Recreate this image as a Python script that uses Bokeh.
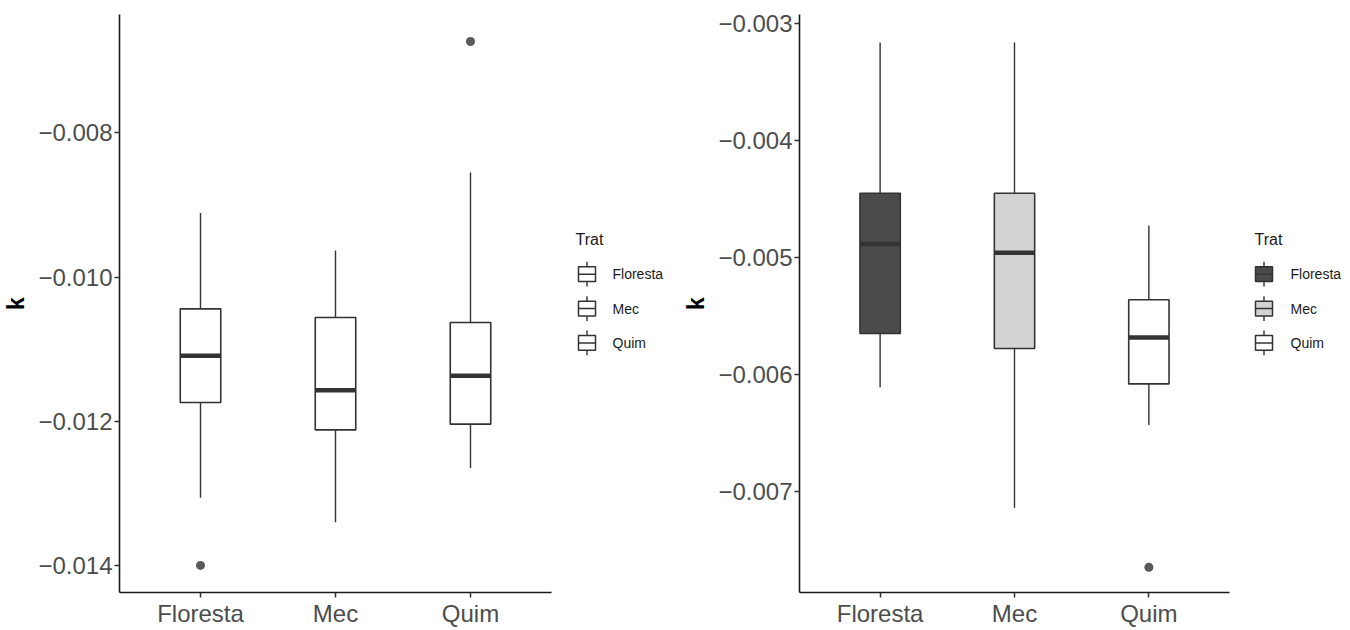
from bokeh.plotting import figure
from bokeh.layouts import row
from bokeh.models import Range1d, FactorRange, FixedTicker, CustomJSTickFormatter
from bokeh.embed import file_html
from bokeh.resources import INLINE
from bokeh.core.properties import value

# ---------------- data ----------------
cats = ["Floresta", "Mec", "Quim"]

# left panel
l_lower = [-0.01306, -0.01340, -0.01265]
l_q1 = [-0.01174, -0.01212, -0.01204]
l_median = [-0.01109, -0.01157, -0.01137]
l_q3 = [-0.01044, -0.01056, -0.01063]
l_upper = [-0.00911, -0.00963, -0.00855]
l_out_cat = ["Floresta", "Quim"]
l_out_val = [-0.01400, -0.00673]
l_fill = ["#ffffff", "#ffffff", "#ffffff"]
l_ticks = [-0.014, -0.012, -0.010, -0.008]

# right panel
r_lower = [-0.006106, -0.007134, -0.006429]
r_q1 = [-0.005648, -0.005776, -0.006078]
r_median = [-0.004885, -0.004960, -0.005683]
r_q3 = [-0.004451, -0.004451, -0.005360]
r_upper = [-0.003165, -0.003165, -0.004727]
r_out_cat = ["Quim"]
r_out_val = [-0.007643]
r_fill = ["#4b4b4b", "#d3d3d3", "#ffffff"]
r_ticks = [-0.007, -0.006, -0.005, -0.004, -0.003]

legend_title = "Trat"
y_label = "k"

FONT = "Liberation Sans"
LINE = "#333333"


def panel(width, bl, br, yr, ticks, lower, q1, med, q3, upper, fills, out_cat, out_val):
    p = figure(width=width, height=630, output_backend="svg", toolbar_location=None,
               x_range=FactorRange(factors=cats, range_padding=0.2 / 3, range_padding_units="percent"),
               y_range=Range1d(*yr),
               min_border_left=bl, min_border_right=br, min_border_top=14, min_border_bottom=38)
    p.outline_line_color = None
    p.grid.visible = False
    p.background_fill_color = "white"
    p.border_fill_color = "white"

    p.segment(x0=cats, y0=q3, x1=cats, y1=upper, line_color=LINE, line_width=1.4)
    p.segment(x0=cats, y0=q1, x1=cats, y1=lower, line_color=LINE, line_width=1.4)
    p.vbar(x=cats, width=0.3, bottom=q1, top=q3, fill_color=fills, line_color=LINE, line_width=1.6)
    p.rect(x=cats, y=med, width=0.3, height=4.5, height_units="screen",
           fill_color=LINE, line_color=None)
    p.scatter(x=out_cat, y=out_val, size=9, fill_color="#595959", line_color=None)

    for ax in (p.xaxis[0], p.yaxis[0]):
        ax.axis_line_color = "#1a1a1a"
        ax.axis_line_width = 1.6
        ax.major_tick_line_color = LINE
        ax.major_tick_line_width = 1.5
        ax.major_tick_out = 5
        ax.major_tick_in = 0
        ax.minor_tick_line_color = None
        ax.major_label_text_font = FONT
        ax.major_label_text_font_size = "24px"
        ax.major_label_text_color = "#4d4d4d"
    p.xaxis.major_label_standoff = 2
    p.yaxis.major_label_standoff = 2
    p.yaxis.ticker = FixedTicker(ticks=ticks)
    p.yaxis.formatter = CustomJSTickFormatter(code="return '\u2212' + Math.abs(tick).toFixed(3);")
    p.yaxis.axis_label = y_label
    p.yaxis.axis_label_text_font = FONT
    p.yaxis.axis_label_text_font_style = "bold"
    p.yaxis.axis_label_text_font_size = "23px"
    p.yaxis.axis_label_text_color = "black"
    p.yaxis.axis_label_standoff = 6
    return p


def legend_fig(width, key_x, label_x, title_x, fills):
    lg = figure(width=width, height=630, output_backend="svg", toolbar_location=None,
                x_range=Range1d(0, width), y_range=Range1d(630, 0),
                x_axis_location=None, y_axis_location=None,
                min_border_left=0, min_border_right=0, min_border_top=0, min_border_bottom=0)
    lg.outline_line_color = None
    lg.grid.visible = False
    kw, box_h, whisk_h, y0, step = 17, 16, 27, 283, 37.5
    ys = [y0 + i * step for i in range(len(cats))]
    xc = [key_x + kw / 2] * len(cats)
    lg.segment(x0=xc, y0=[y - whisk_h / 2 for y in ys], x1=xc, y1=[y + whisk_h / 2 for y in ys],
               line_color=LINE, line_width=1.4)
    lg.quad(left=[key_x] * len(cats), right=[key_x + kw] * len(cats),
            top=[y - box_h / 2 for y in ys], bottom=[y + box_h / 2 for y in ys],
            fill_color=fills, line_color=LINE, line_width=1.5)
    lg.segment(x0=[key_x] * len(cats), y0=ys, x1=[key_x + kw] * len(cats), y1=ys,
               line_color=LINE, line_width=1.5)
    lg.text(x=[label_x] * len(cats), y=ys, text=cats, text_font=value(FONT),
            text_font_size="14px", text_baseline="middle", text_color="#1a1a1a")
    lg.text(x=[title_x], y=[245], text=[legend_title], text_font=value(FONT),
            text_font_size="16px", text_baseline="middle", text_color="#1a1a1a")
    return lg


p1 = panel(565, 119, 14, (-0.014376, -0.006356), l_ticks,
           l_lower, l_q1, l_median, l_q3, l_upper, l_fill, l_out_cat, l_out_val)
g1 = legend_fig(115, 13, 47, 10, l_fill)
p2 = panel(560, 117, 11, (-0.007858, -0.002926), r_ticks,
           r_lower, r_q1, r_median, r_q3, r_upper, r_fill, r_out_cat, r_out_val)
g2 = legend_fig(110, 15, 50, 14, r_fill)

layout = row(p1, g1, p2, g2)
open("out.html", "w").write(file_html(layout, INLINE))
